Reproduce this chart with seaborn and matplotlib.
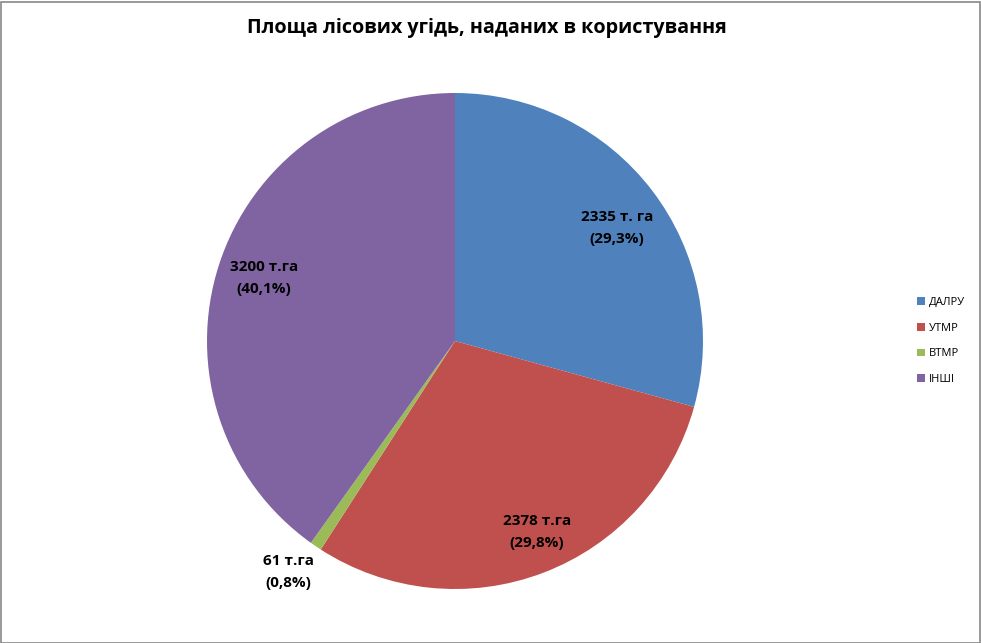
import matplotlib
matplotlib.use("Agg")
import matplotlib.pyplot as plt
import seaborn as sns
from matplotlib.patches import Rectangle

# data
categories = ["ДАЛРУ", "УТМР", "ВТМР", "ІНШІ"]
values = [2335, 2378, 61, 3200]
labels = ["2335 т. га\n(29,3%)", "2378 т.га\n(29,8%)", "61 т.га\n(0,8%)", "3200 т.га\n(40,1%)"]
colors = ["#4F81BD", "#C0504D", "#9BBB59", "#8064A2"]
# label anchor points, in units of the pie radius
label_x = [0.653, 0.331, -0.673, -0.770]
label_y = [0.456, -0.770, -0.931, 0.254]

sns.set_theme(style="white")
plt.rcParams['font.family'] = ['Open Sans', 'DejaVu Sans']
plt.rcParams['text.color'] = 'black'

W, H = 981, 643
fig = plt.figure(figsize=(W / 100, H / 100), dpi=100)
fig.patch.set_facecolor("white")

# pie axes placed so the circle sits at the same spot as the reference
cx, cy, r = 455, 341, 248
ax = fig.add_axes([(cx - r) / W, (H - cy - r) / H, 2 * r / W, 2 * r / H])
wedges, _ = ax.pie(values, colors=colors, startangle=90, counterclock=False,
                   radius=1, wedgeprops=dict(linewidth=0))
ax.set_xlim(-1, 1)
ax.set_ylim(-1, 1)
ax.set_aspect("equal")
ax.axis("off")

for lab, x, y in zip(labels, label_x, label_y):
    ax.text(x, y, lab, ha="center", va="center", fontsize=11,
            fontweight="bold", color="black", linespacing=1.68)

fig.text(487 / W, 1 - 28 / H, "Площа лісових угідь, наданих в користування",
         ha="center", va="center", fontsize=14.2, fontweight="bold", color="black")

leg = fig.legend(wedges, categories, loc="center left",
                 bbox_to_anchor=(907 / W, 1 - 341 / H), frameon=False,
                 fontsize=8, handlelength=0.7, handleheight=0.7,
                 handletextpad=0.35, labelspacing=1.33, labelcolor="black")

fig.patches.append(Rectangle((0.5 / W, 0.5 / H), 1 - 2 / W, 1 - 2 / H,
                             transform=fig.transFigure, fill=False,
                             edgecolor="#888888", linewidth=1.2))

fig.savefig("out.png", dpi=100)
